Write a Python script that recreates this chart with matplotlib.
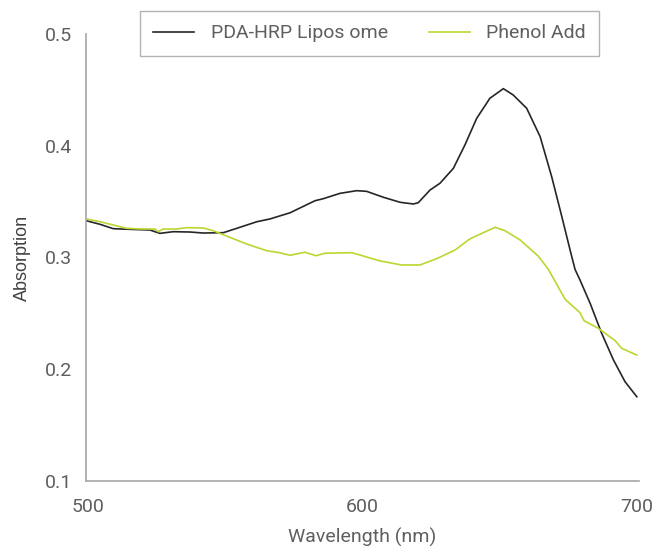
import numpy as np
import matplotlib
matplotlib.use("Agg")
import matplotlib.pyplot as plt

# absorption spectra
wl_lipo = [499.3, 504.4, 509.2, 515.3, 522.6, 526.2, 531.1, 537.2, 542.0, 549.3,
           554.2, 561.5, 566.3, 573.6, 582.7, 585.7, 591.8, 597.9, 601.5, 607.6,
           613.7, 618.5, 620.3, 624.6, 628.2, 633.1, 637.3, 641.6, 646.4, 651.3,
           654.9, 659.8, 664.7, 668.9, 672.6, 675.6, 677.4, 679.2, 682.9, 687.1,
           691.4, 695.6, 699.9]
abs_lipo = [0.333, 0.3297, 0.3258, 0.3252, 0.3246, 0.3216, 0.3231, 0.3228, 0.3219, 0.3222,
            0.3261, 0.332, 0.3345, 0.340, 0.3508, 0.3526, 0.3574, 0.3598, 0.3592, 0.3539,
            0.3494, 0.3479, 0.349, 0.3604, 0.3664, 0.3798, 0.4007, 0.4246, 0.4425, 0.4511,
            0.4454, 0.4335, 0.4081, 0.3723, 0.3365, 0.3067, 0.2894, 0.2799, 0.259, 0.2322,
            0.2083, 0.1889, 0.1754]

wl_phenol = [499.3, 504.4, 509.2, 514.1, 518.9, 524.4, 525.6, 527.4, 532.3, 535.9,
             542.0, 545.6, 550.5, 557.8, 565.1, 569.7, 573.6, 579.0, 583.1, 586.3,
             596.1, 599.1, 606.4, 614.3, 620.9, 627.0, 633.7, 638.9, 641.6, 648.3,
             651.9, 657.4, 664.0, 667.7, 669.5, 673.8, 679.2, 680.7, 685.9, 692.0,
             694.4, 699.9]
abs_phenol = [0.3345, 0.332, 0.3291, 0.3261, 0.3255, 0.3255, 0.3231, 0.3255, 0.3255, 0.3267,
              0.3264, 0.324, 0.3192, 0.3121, 0.3061, 0.3043, 0.302, 0.3047, 0.3016, 0.3038,
              0.3043, 0.3022, 0.2969, 0.2933, 0.2933, 0.2989, 0.3067, 0.3163, 0.3195, 0.327,
              0.324, 0.3157, 0.3013, 0.2894, 0.2814, 0.2626, 0.2506, 0.2434, 0.2366, 0.2256,
              0.2187, 0.2127]

x_ticks = [500, 600, 700]
y_ticks = [0.1, 0.2, 0.3, 0.4, 0.5]
series_names = ["PDA-HRP Lipos ome", "Phenol Add"]

plt.rcParams['font.family'] = ['Roboto', 'DejaVu Sans']
grey_txt = '#5f5f5f'
grey_axis = '#a6a6a6'

fig = plt.figure(figsize=(6.57, 5.54), dpi=100)
ax = fig.add_axes([86 / 657, 1 - 481 / 554, (639 - 86) / 657, (481 - 34) / 554])

ax.plot(wl_lipo, abs_lipo, color='#262626', lw=1.2, label=series_names[0])
ax.plot(wl_phenol, abs_phenol, color='#bcd631', lw=1.2, label=series_names[1])

ax.set_xlim(499.3, 700.7)
ax.set_ylim(0.1, 0.5)
ax.set_xticks(x_ticks)
ax.set_yticks(y_ticks)
ax.set_yticklabels([f"{v:.1f}" for v in y_ticks])
ax.tick_params(length=0, labelsize=14, colors=grey_txt)
ax.tick_params(axis='y', pad=10)
ax.tick_params(axis='x', pad=12)

for s in ['top', 'right']:
    ax.spines[s].set_visible(False)
for s in ['left', 'bottom']:
    ax.spines[s].set_color(grey_axis)
    ax.spines[s].set_linewidth(1.2)

ax.set_xlabel("Wavelength (nm)", fontsize=14, color=grey_txt, labelpad=9)
ax.set_ylabel("Absorption", fontsize=13, color='#404040', family=['Liberation Sans', 'DejaVu Sans'],
              labelpad=10)

leg = fig.legend(loc='center', bbox_to_anchor=(369.5 / 657, 1 - 33.5 / 554), ncol=2,
                 fontsize=14, frameon=True, fancybox=False, handlelength=2.1,
                 handletextpad=0.85, columnspacing=2.1, borderpad=0.7)
leg.get_frame().set_edgecolor('#a0a0a0')
leg.get_frame().set_linewidth(1.0)
for t in leg.get_texts():
    t.set_color(grey_txt)

fig.savefig("out.png", dpi=100)
